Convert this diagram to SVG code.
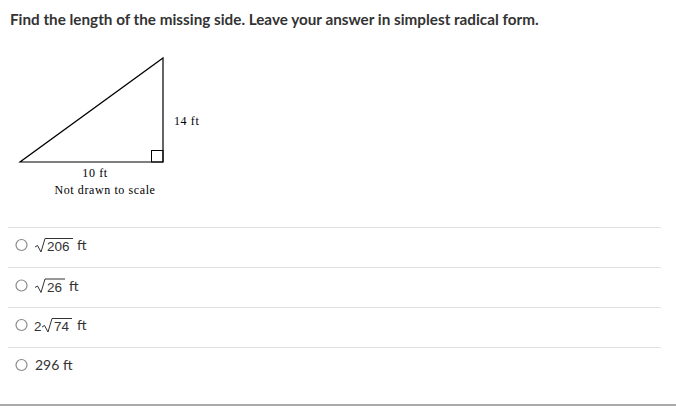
<svg xmlns="http://www.w3.org/2000/svg" width="676" height="409" viewBox="0 0 676 409">
<style>
.title{font-family:Lato,"Liberation Sans",sans-serif;font-weight:bold;font-size:15.25px;fill:#333}
.serif{font-family:"Liberation Serif","DejaVu Serif",serif;font-size:12px;fill:#000;letter-spacing:0.6px}
.opt{font-family:Lato,"Liberation Sans",sans-serif;font-size:14px;fill:#333}
.num{font-family:"Liberation Sans",Arial,sans-serif;font-size:13.5px;fill:#333}
.sep{stroke:#e2e2e2;stroke-width:1}
.radio{fill:#fff;stroke:#888;stroke-width:1.2}
.rad{fill:none;stroke:#333;stroke-width:1}
</style>
<rect width="676" height="409" fill="#fff"/>
<text class="title" x="10" y="25">Find the length of the missing side. Leave your answer in simplest radical form.</text>
<g id="triangle">
<polygon points="20,162 163,162 163,58" fill="none" stroke="#000" stroke-width="1.2"/>
<rect x="151.5" y="150.5" width="11.5" height="11.5" fill="none" stroke="#000" stroke-width="1"/>
<text class="serif" x="174" y="125">14 ft</text>
<text class="serif" x="95" y="177" text-anchor="middle">10 ft</text>
<text class="serif" x="105" y="194" text-anchor="middle">Not drawn to scale</text>
</g>
<g id="separators">
<line class="sep" x1="8" y1="227.5" x2="661" y2="227.5"/>
<line class="sep" x1="8" y1="267.5" x2="661" y2="267.5"/>
<line class="sep" x1="8" y1="307.5" x2="661" y2="307.5"/>
<line class="sep" x1="8" y1="347.5" x2="661" y2="347.5"/>
<line x1="0" y1="405" x2="676" y2="405" stroke="#aaa" stroke-width="2"/>
</g>
<g id="option1">
<circle class="radio" cx="21.5" cy="245" r="5.5"/>
<path class="rad" d="M35,247 L37.5,245.5 L41,252 L45,238.5 L73,238.5"/>
<text class="num" x="47" y="251">206</text>
<text class="opt" x="77" y="250">ft</text>
</g>
<g id="option2">
<circle class="radio" cx="21.5" cy="285.5" r="5.5"/>
<path class="rad" d="M35,287.5 L37.5,286 L41,292.5 L45,279 L65,279"/>
<text class="num" x="47" y="291.5">26</text>
<text class="opt" x="69" y="290.5">ft</text>
</g>
<g id="option3">
<circle class="radio" cx="21.5" cy="325" r="5.5"/>
<text class="num" x="34" y="331">2</text>
<path class="rad" d="M42,327 L44.5,325.5 L48,332 L52,318.5 L72,318.5"/>
<text class="num" x="54" y="331">74</text>
<text class="opt" x="77" y="330">ft</text>
</g>
<g id="option4">
<circle class="radio" cx="21.5" cy="365" r="5.5"/>
<text class="opt" x="35" y="370">296 ft</text>
</g>
</svg>
